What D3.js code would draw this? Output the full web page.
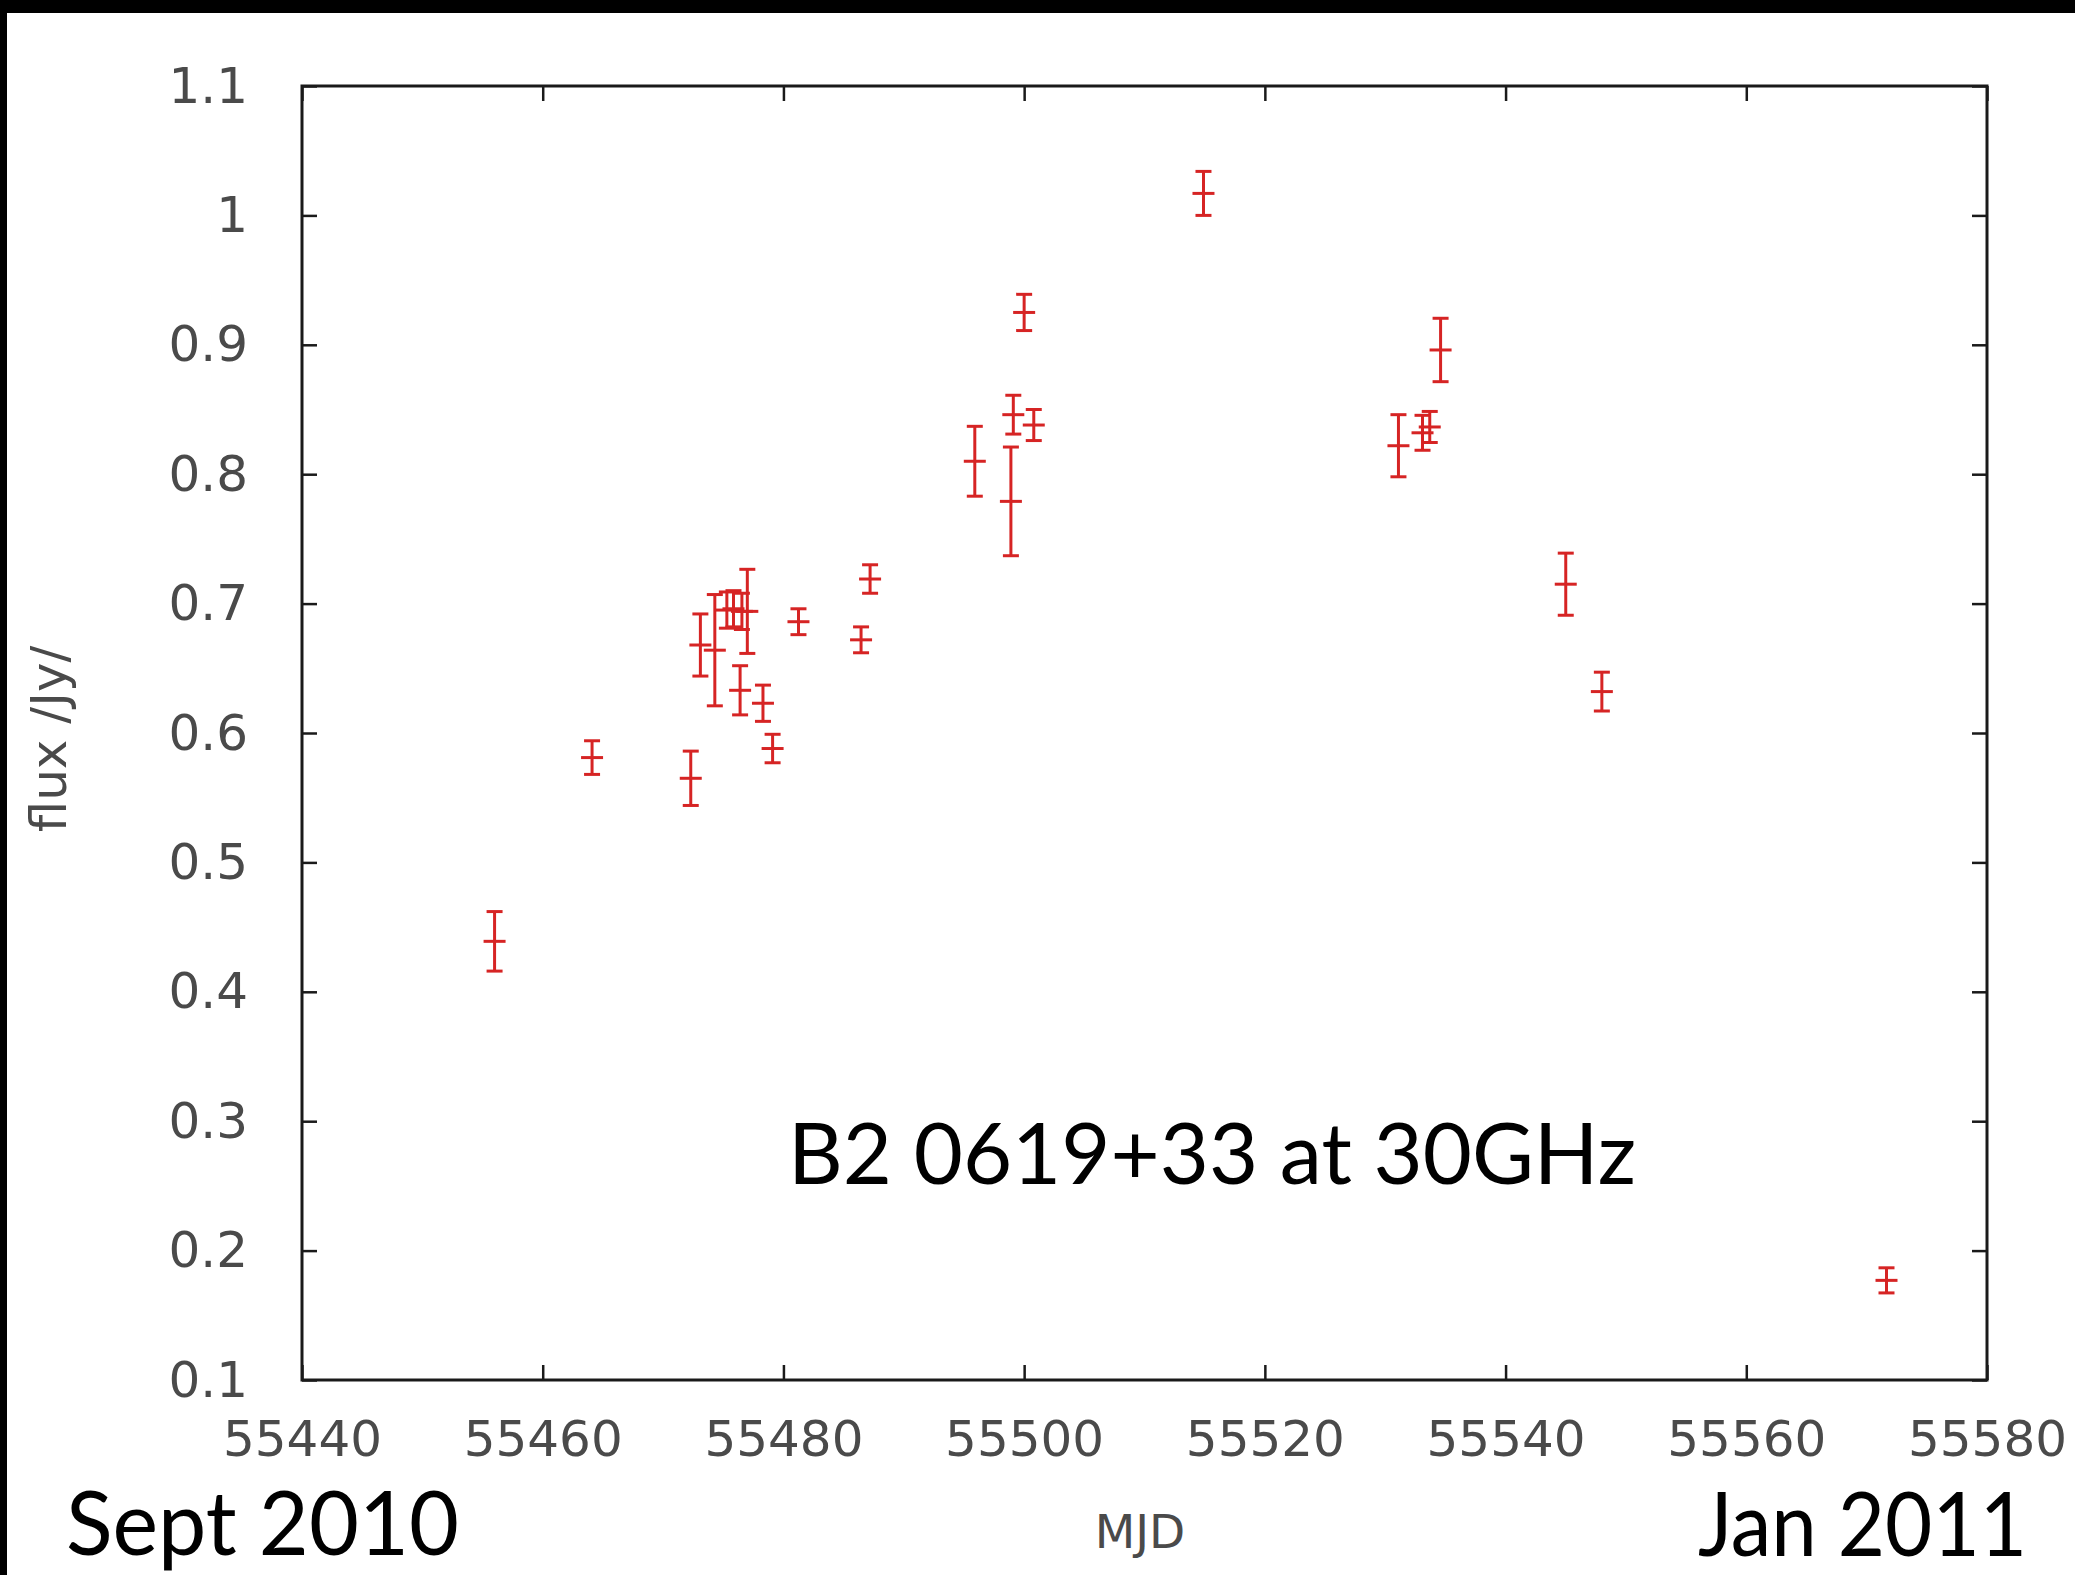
<!DOCTYPE html>
<html>
<head>
<meta charset="utf-8">
<script src="https://cdn.jsdelivr.net/npm/d3@7"></script>
<style>
  html, body { margin: 0; padding: 0; background: #fff; }
  svg { display: block; }
</style>
</head>
<body>
<svg id="chart" width="2075" height="1575"></svg>
<script>
// ------------- DATA ------------- //
var mjd = [55456.0, 55464.1, 55472.3, 55473.1, 55474.3, 55475.3, 55475.85, 55476.4, 55476.55, 55477.0,
           55478.3, 55479.1, 55481.25, 55486.45, 55487.2, 55495.9, 55498.9, 55499.1, 55500.0, 55500.8,
           55514.9, 55531.1, 55533.1, 55533.7, 55534.6, 55545.0, 55548.0, 55571.65];
var flux = [0.439, 0.581, 0.565, 0.668, 0.664, 0.695, 0.696, 0.633, 0.694, 0.694,
            0.623, 0.588, 0.686, 0.672, 0.719, 0.810, 0.779, 0.846, 0.925, 0.838,
            1.017, 0.822, 0.832, 0.8365, 0.896, 0.715, 0.632, 0.177];
var fluxErr = [0.023, 0.013, 0.021, 0.024, 0.043, 0.014, 0.014, 0.019, 0.014, 0.0325,
               0.014, 0.011, 0.010, 0.010, 0.011, 0.027, 0.042, 0.015, 0.014, 0.012,
               0.017, 0.024, 0.0135, 0.012, 0.0245, 0.024, 0.015, 0.0097];

var xTicks = [55440, 55460, 55480, 55500, 55520, 55540, 55560, 55580];
var yTicks = [0.1, 0.2, 0.3, 0.4, 0.5, 0.6, 0.7, 0.8, 0.9, 1, 1.1];

var title = "B2 0619+33 at 30GHz";
var startLabel = "Sept 2010";
var endLabel = "Jan 2011";

// ------------- LAYOUT ------------- //
var W = 2075, H = 1575;
var plotL = 302, plotR = 1987, plotT = 86, plotB = 1380;
var tickLen = 15;
var gnuFont = "'DejaVu Sans', sans-serif";
var slideFont = "'Gill Sans', 'Gill Sans MT', Lato, sans-serif";
var red = "#d62424";
var gnuText = "#4a4a4a";

var svg = d3.select("#chart");

svg.append("rect").attr("width", W).attr("height", H).attr("fill", "#fff");
// black slide edges
svg.append("rect").attr("x", 0).attr("y", 0).attr("width", W).attr("height", 13).attr("fill", "#000");
svg.append("rect").attr("x", 0).attr("y", 0).attr("width", 7).attr("height", H).attr("fill", "#000");

var x = d3.scaleLinear().domain([55440, 55580]).range([plotL, plotR]);
var y = d3.scaleLinear().domain([0.1, 1.1]).range([plotB, plotT]);

// ------------- AXES ------------- //
function styleAxis(g) {
  g.select(".domain").remove();
  g.selectAll(".tick line").attr("stroke", "#1a1a1a").attr("stroke-width", 2.5);
  g.selectAll(".tick text").attr("fill", gnuText)
    .style("font-family", gnuFont).style("font-size", "50px");
}

svg.append("g")
  .attr("transform", "translate(0," + plotB + ")")
  .call(d3.axisBottom(x).tickValues(xTicks).tickFormat(d3.format("d")).tickSize(-tickLen).tickPadding(40))
  .call(styleAxis);

svg.append("g")
  .attr("transform", "translate(0," + plotT + ")")
  .call(d3.axisTop(x).tickValues(xTicks).tickFormat("").tickSize(-tickLen))
  .call(styleAxis);

svg.append("g")
  .attr("transform", "translate(" + plotL + ",0)")
  .call(d3.axisLeft(y).tickValues(yTicks).tickFormat(d3.format("~g")).tickSize(-tickLen).tickPadding(54))
  .call(styleAxis);

svg.append("g")
  .attr("transform", "translate(" + plotR + ",0)")
  .call(d3.axisRight(y).tickValues(yTicks).tickFormat("").tickSize(-tickLen))
  .call(styleAxis);

// frame
svg.append("rect")
  .attr("x", plotL).attr("y", plotT)
  .attr("width", plotR - plotL).attr("height", plotB - plotT)
  .attr("fill", "none").attr("stroke", "#1a1a1a").attr("stroke-width", 3);

// axis titles
svg.append("text")
  .attr("transform", "translate(66," + ((plotT + plotB) / 2 + 6) + ") rotate(-90)")
  .attr("text-anchor", "middle")
  .attr("fill", gnuText)
  .style("font-family", gnuFont).style("font-size", "50px")
  .text("flux /Jy/");

svg.append("text")
  .attr("x", 1140).attr("y", 1548)
  .attr("text-anchor", "middle")
  .attr("fill", gnuText)
  .style("font-family", gnuFont).style("font-size", "47px")
  .text("MJD");

// ------------- ERROR BARS ------------- //
var idx = d3.range(mjd.length);
var pts = svg.append("g").attr("stroke", red).attr("stroke-width", 3).attr("fill", "none");

// vertical bar
pts.append("g").selectAll("line").data(idx).join("line")
  .attr("x1", function(i) { return x(mjd[i]); })
  .attr("x2", function(i) { return x(mjd[i]); })
  .attr("y1", function(i) { return y(flux[i] + fluxErr[i]); })
  .attr("y2", function(i) { return y(flux[i] - fluxErr[i]); });

// caps
[1, -1].forEach(function(s) {
  pts.append("g").selectAll("line").data(idx).join("line")
    .attr("x1", function(i) { return x(mjd[i]) - 8; })
    .attr("x2", function(i) { return x(mjd[i]) + 8; })
    .attr("y1", function(i) { return y(flux[i] + s * fluxErr[i]); })
    .attr("y2", function(i) { return y(flux[i] + s * fluxErr[i]); });
});

// point "+" crossbar
pts.append("g").selectAll("line").data(idx).join("line")
  .attr("x1", function(i) { return x(mjd[i]) - 11; })
  .attr("x2", function(i) { return x(mjd[i]) + 11; })
  .attr("y1", function(i) { return y(flux[i]); })
  .attr("y2", function(i) { return y(flux[i]); });

// ------------- SLIDE TEXT ------------- //
svg.append("text")
  .attr("x", 788).attr("y", 1184)
  .attr("textLength", 848).attr("lengthAdjust", "spacingAndGlyphs")
  .attr("fill", "#000")
  .style("font-family", slideFont).style("font-size", "86px")
  .text(title);

svg.append("text")
  .attr("x", 66).attr("y", 1555)
  .attr("textLength", 393).attr("lengthAdjust", "spacingAndGlyphs")
  .attr("fill", "#000")
  .style("font-family", slideFont).style("font-size", "90px")
  .text(startLabel);

svg.append("text")
  .attr("x", 1698).attr("y", 1556)
  .attr("textLength", 329).attr("lengthAdjust", "spacingAndGlyphs")
  .attr("fill", "#000")
  .style("font-family", slideFont).style("font-size", "90px")
  .text(endLabel);
</script>
</body>
</html>
